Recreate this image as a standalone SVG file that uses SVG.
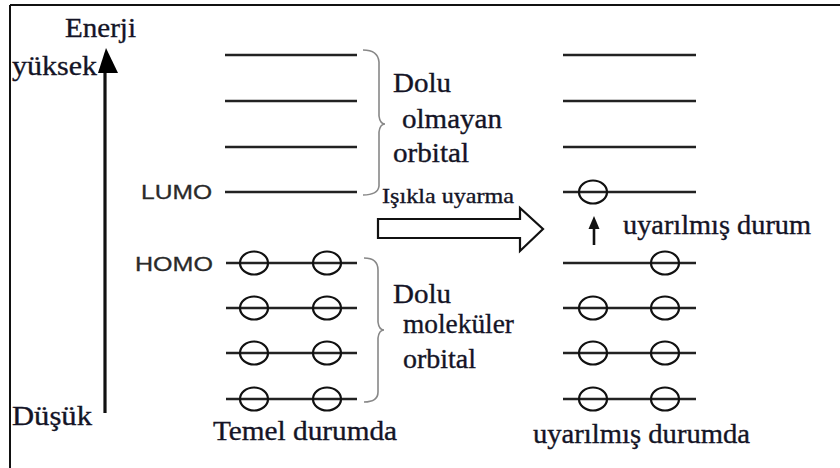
<svg xmlns="http://www.w3.org/2000/svg" width="840" height="468" viewBox="0 0 840 468">
<defs>
<style>
.lvl{stroke:#222;stroke-width:2.6;fill:none}
.e{stroke:#111;stroke-width:2.2;fill:none}
.br{stroke:#888;stroke-width:1.6;fill:none}
.t{font-family:"Liberation Serif","Times New Roman",serif;fill:#141426;stroke:#141426;stroke-width:0.35}
.s{font-family:"Liberation Sans",Arial,sans-serif;fill:#2a2a2a;stroke:#2a2a2a;stroke-width:0.3}
</style>
</defs>
<rect width="840" height="468" fill="#fff"/>
<g id="frame">
<line x1="10" y1="5" x2="840" y2="5" stroke="#111" stroke-width="2"/>
<line x1="10" y1="5" x2="10" y2="468" stroke="#111" stroke-width="2"/>
</g>
<g id="energy-axis">
<line x1="105" y1="68" x2="105" y2="413" stroke="#111" stroke-width="3.2"/>
<polygon points="106,48 98,73 118,73" fill="#000"/>
<text class="t" x="65" y="37" font-size="28" textLength="71" lengthAdjust="spacingAndGlyphs">Enerji</text>
<text class="t" x="12" y="75" font-size="28" textLength="85" lengthAdjust="spacingAndGlyphs">yüksek</text>
<text class="t" x="12" y="425" font-size="28" textLength="80" lengthAdjust="spacingAndGlyphs">Düşük</text>
</g>
<g id="ground-state">
<line class="lvl" x1="225" y1="55" x2="357" y2="55"/>
<line class="lvl" x1="225" y1="101" x2="357" y2="101"/>
<line class="lvl" x1="225" y1="147" x2="357" y2="147"/>
<line class="lvl" x1="225" y1="192" x2="357" y2="192"/>
<line class="lvl" x1="226" y1="263" x2="357" y2="263"/>
<line class="lvl" x1="226" y1="308" x2="357" y2="308"/>
<line class="lvl" x1="226" y1="353" x2="357" y2="353"/>
<line class="lvl" x1="226" y1="399" x2="357" y2="399"/>
<ellipse class="e" cx="254" cy="263" rx="14" ry="11.5"/>
<ellipse class="e" cx="327" cy="263" rx="14" ry="11.5"/>
<ellipse class="e" cx="254" cy="308" rx="14" ry="11.5"/>
<ellipse class="e" cx="327" cy="308" rx="14" ry="11.5"/>
<ellipse class="e" cx="254" cy="353" rx="14" ry="11.5"/>
<ellipse class="e" cx="327" cy="353" rx="14" ry="11.5"/>
<ellipse class="e" cx="254" cy="399" rx="14" ry="11.5"/>
<ellipse class="e" cx="327" cy="399" rx="14" ry="11.5"/>
<text class="s" x="141" y="199" font-size="20.5" textLength="71" lengthAdjust="spacingAndGlyphs">LUMO</text>
<text class="s" x="135" y="271" font-size="21" textLength="78" lengthAdjust="spacingAndGlyphs">HOMO</text>
<text class="t" x="213" y="440" font-size="28" textLength="184" lengthAdjust="spacingAndGlyphs">Temel durumda</text>
</g>
<g id="empty-orbitals-label">
<path class="br" d="M363,50 Q378,50 379,62 L379,116 Q380,124 385,124 Q380,124 379,132 L379,186 Q378,195 363,195"/>
<text class="t" x="393" y="92" font-size="28" textLength="58" lengthAdjust="spacingAndGlyphs">Dolu</text>
<text class="t" x="402" y="128" font-size="28" textLength="100" lengthAdjust="spacingAndGlyphs">olmayan</text>
<text class="t" x="393" y="162" font-size="28" textLength="76" lengthAdjust="spacingAndGlyphs">orbital</text>
</g>
<g id="filled-orbitals-label">
<path class="br" d="M364,258 Q378,258 378,270 L378,322 Q379,330 384,330 Q379,330 378,338 L378,392 Q378,402 364,402"/>
<text class="t" x="393" y="303" font-size="28" textLength="58" lengthAdjust="spacingAndGlyphs">Dolu</text>
<text class="t" x="403" y="333" font-size="28" textLength="111" lengthAdjust="spacingAndGlyphs">moleküler</text>
<text class="t" x="403" y="368" font-size="28" textLength="73" lengthAdjust="spacingAndGlyphs">orbital</text>
</g>
<g id="connectors">
<polygon points="378,219 520,219 520,208 543,229 520,251 520,238 378,238" fill="#fff" stroke="#111" stroke-width="2.2" stroke-linejoin="miter"/>
<text class="t" x="382" y="203" font-size="22" textLength="132" lengthAdjust="spacingAndGlyphs">Işıkla uyarma</text>
<line x1="594" y1="245" x2="594" y2="226" stroke="#111" stroke-width="2.6"/>
<polygon points="594,216 588.5,229 599.5,229" fill="#111"/>
</g>
<g id="excited-state">
<line class="lvl" x1="563" y1="55" x2="696" y2="55"/>
<line class="lvl" x1="563" y1="101" x2="696" y2="101"/>
<line class="lvl" x1="563" y1="147" x2="696" y2="147"/>
<line class="lvl" x1="563" y1="192" x2="696" y2="192"/>
<line class="lvl" x1="563" y1="263" x2="696" y2="263"/>
<line class="lvl" x1="563" y1="308" x2="696" y2="308"/>
<line class="lvl" x1="563" y1="353" x2="696" y2="353"/>
<line class="lvl" x1="563" y1="399" x2="696" y2="399"/>
<ellipse class="e" cx="593" cy="192" rx="14" ry="11.5"/>
<ellipse class="e" cx="665" cy="263" rx="14" ry="11.5"/>
<ellipse class="e" cx="593" cy="308" rx="14" ry="11.5"/>
<ellipse class="e" cx="665" cy="308" rx="14" ry="11.5"/>
<ellipse class="e" cx="593" cy="353" rx="14" ry="11.5"/>
<ellipse class="e" cx="665" cy="353" rx="14" ry="11.5"/>
<ellipse class="e" cx="593" cy="399" rx="14" ry="11.5"/>
<ellipse class="e" cx="665" cy="399" rx="14" ry="11.5"/>
<text class="t" x="623" y="234" font-size="27" textLength="188" lengthAdjust="spacingAndGlyphs">uyarılmış durum</text>
<text class="t" x="533" y="443" font-size="28" textLength="217" lengthAdjust="spacingAndGlyphs">uyarılmış durumda</text>
</g>
</svg>
